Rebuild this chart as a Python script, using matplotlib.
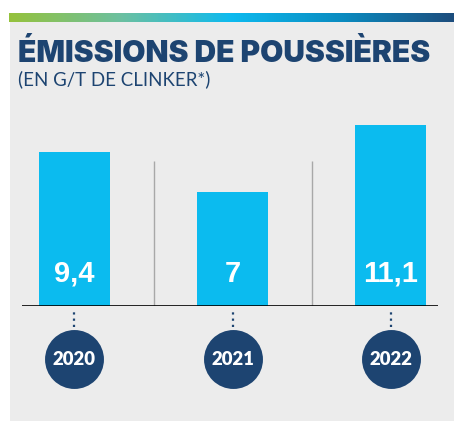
import matplotlib
matplotlib.use("Agg")
import matplotlib.pyplot as plt
import numpy as np
from matplotlib.colors import LinearSegmentedColormap
from matplotlib.patches import Rectangle

# ---- data ----
years = ["2020", "2021", "2022"]
values = [9.4, 7.0, 11.1]
value_labels = ["9,4", "7", "11,1"]
title = "ÉMISSIONS DE POUSSIÈRES"
subtitle = "(EN G/T DE CLINKER*)"

NAVY = "#1d4471"
BAR = "#0bbbef"
PANEL = "#ececec"

W, H = 454, 421
fig = plt.figure(figsize=(W / 100, H / 100), dpi=100)
fig.patch.set_facecolor("white")

# background / decoration axes in pixel coordinates
bg = fig.add_axes([0, 0, 1, 1])
bg.set_xlim(0, W)
bg.set_ylim(H, 0)
bg.axis("off")
bg.add_patch(Rectangle((10, 22), W - 10, H - 22, facecolor=PANEL, edgecolor="none"))
cmap = LinearSegmentedColormap.from_list(
    "g", [(0, "#95c23c"), (0.25, "#6cc0a0"), (0.5, "#0dbaef"), (0.75, "#0a8bc0"), (1, "#1d4d7d")])
grad = np.linspace(0, 1, 256).reshape(1, -1)
bg.imshow(grad, cmap=cmap, extent=[9, W, 22, 13], aspect="auto", interpolation="bilinear")
bg.set_xlim(0, W)
bg.set_ylim(H, 0)

bg.text(18, 62, title, fontsize=21.6, fontweight=900, family=["Inter", "DejaVu Sans"],
        color=NAVY, va="baseline", ha="left")
bg.text(18, 85, subtitle, fontsize=13.4, family=["Lato", "DejaVu Sans"],
        color=NAVY, va="baseline", ha="left")

# chart axes
ax = fig.add_axes([22 / W, 115 / H, 416 / W, 196 / H])
ax.set_facecolor("none")
x = np.arange(len(years))
ax.set_xlim(-0.332, 2.30)
ax.set_ylim(0, 12)
ax.bar(x, values, width=0.45, color=BAR, zorder=2)
ax.axhline(0, color="black", lw=1.2, zorder=3)
ax.vlines([0.5, 1.5], 0, 8.9, color="#a8a8a8", lw=1.0, zorder=1)
for i, lab in enumerate(value_labels):
    ax.text(x[i], 1.49, lab, color="white", fontsize=21, fontweight="bold",
            family=["Liberation Sans", "DejaVu Sans"], ha="center", va="baseline", zorder=4)
ax.vlines(x, -1.3, -0.3, color=NAVY, lw=1.6, linestyles=(0, (1, 1.8)), clip_on=False)
ax.scatter(x, [-3.25] * len(x), s=1800, color=NAVY, clip_on=False, zorder=5, linewidths=0)
for i, yr in enumerate(years):
    ax.text(x[i], -3.61, yr, color="white", fontsize=13.3, fontweight=800,
            family=["Lato", "DejaVu Sans"], ha="center", va="baseline", zorder=6, clip_on=False)
ax.axis("off")

fig.savefig("out.png", dpi=100, facecolor=fig.get_facecolor())
